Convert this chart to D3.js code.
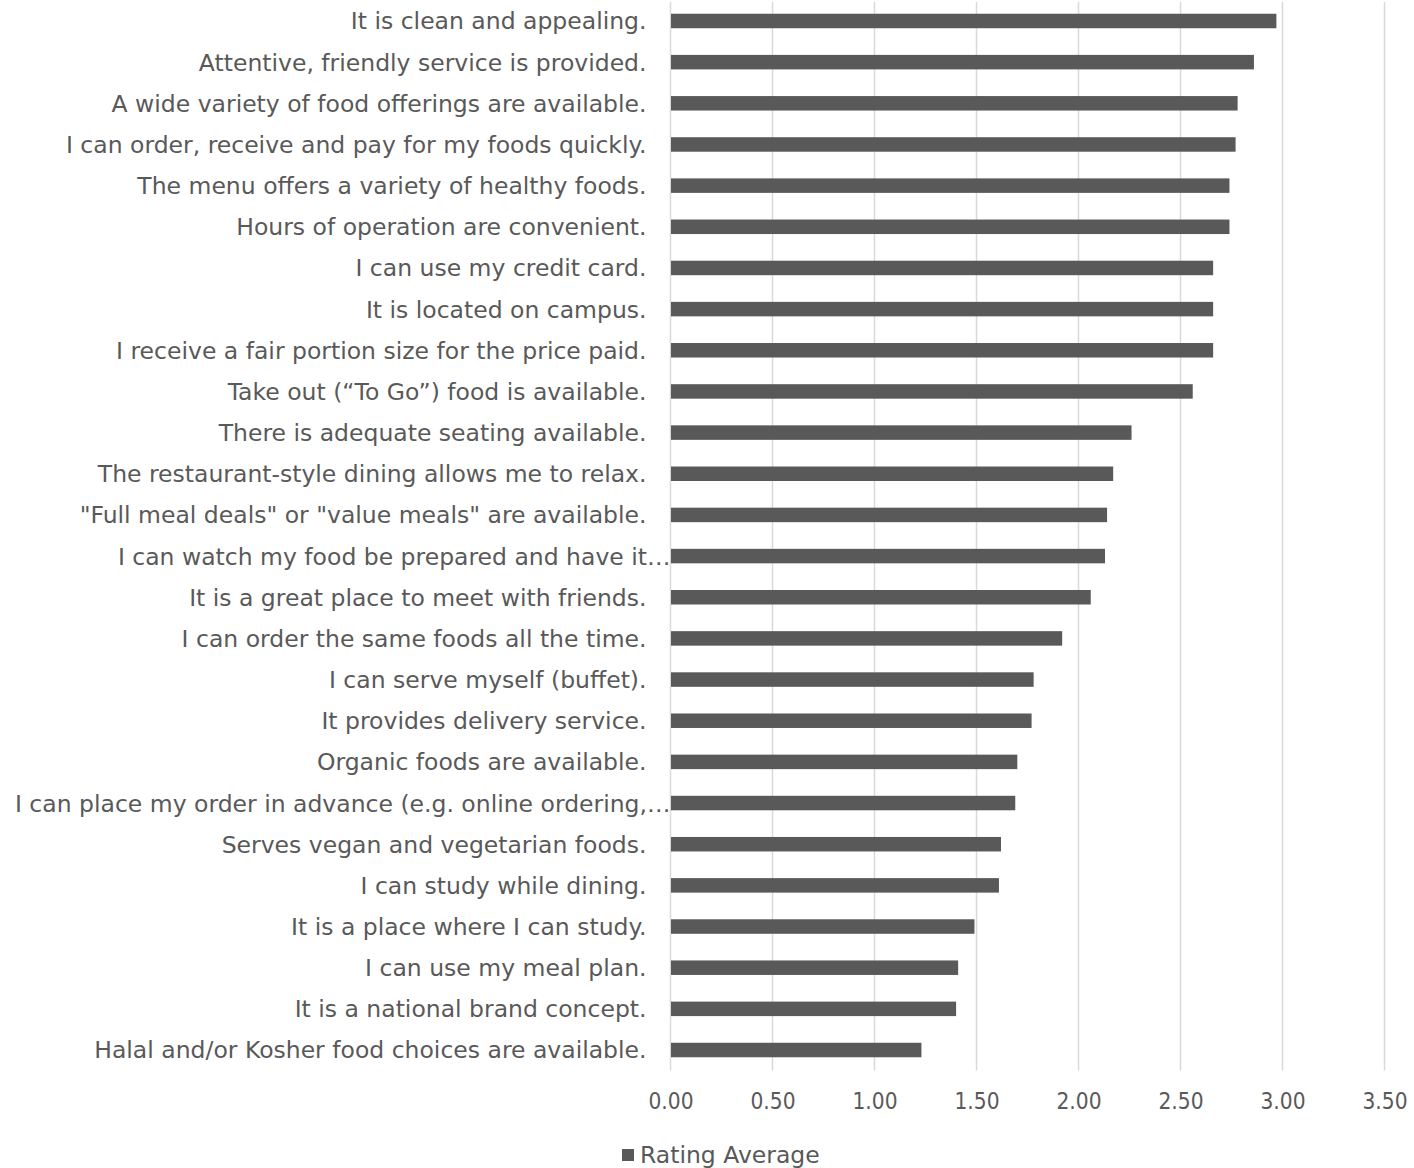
<!DOCTYPE html>
<html>
<head>
<meta charset="utf-8">
<script src="https://cdn.jsdelivr.net/npm/d3@7"></script>
<style>
  html, body { margin: 0; padding: 0; background: #fff; }
  svg { display: block; }
  text { font-family: "Century Gothic", "DejaVu Sans", sans-serif; fill: #595959; }
</style>
</head>
<body>
<svg id="chart" width="1414" height="1168"></svg>
<script>
const categories = [
  "It is clean and appealing.",
  "Attentive, friendly service is provided.",
  "A wide variety of food offerings are available.",
  "I can order, receive and pay for my foods quickly.",
  "The menu offers a variety of healthy foods.",
  "Hours of operation are convenient.",
  "I can use my credit card.",
  "It is located on campus.",
  "I receive a fair portion size for the price paid.",
  "Take out (\u201cTo Go\u201d) food is available.",
  "There is adequate seating available.",
  "The restaurant-style dining allows me to relax.",
  "\"Full meal deals\" or \"value meals\" are available.",
  "I can watch my food be prepared and have it\u2026",
  "It is a great place to meet with friends.",
  "I can order the same foods all the time.",
  "I can serve myself (buffet).",
  "It provides delivery service.",
  "Organic foods are available.",
  "I can place my order in advance (e.g. online ordering,\u2026",
  "Serves vegan and vegetarian foods.",
  "I can study while dining.",
  "It is a place where I can study.",
  "I can use my meal plan.",
  "It is a national brand concept.",
  "Halal and/or Kosher food choices are available."
];
const ratingAverage = [
  2.97, 2.86, 2.78, 2.77, 2.74, 2.74, 2.66, 2.66, 2.66, 2.56,
  2.26, 2.17, 2.14, 2.13, 2.06, 1.92, 1.78, 1.77, 1.70, 1.69,
  1.62, 1.61, 1.49, 1.41, 1.40, 1.23
];
const truncated = [false,false,false,false,false,false,false,false,false,false,
  false,false,false,true,false,false,false,false,false,true,
  false,false,false,false,false,false];
const xTicks = [0, 0.5, 1, 1.5, 2, 2.5, 3, 3.5];
const seriesName = "Rating Average";

const svg = d3.select("#chart");
const x0 = 670.5, x1 = 1384.5, yTop = 0.4, yBot = 1070.6;
const x = d3.scaleLinear().domain([0, 3.5]).range([x0, x1]);
const y = d3.scaleBand().domain(categories).range([yTop, yBot]).paddingInner(0.648).paddingOuter(0.324);

// gridlines
svg.append("g").selectAll("line").data(xTicks).join("line")
  .attr("x1", d => x(d)).attr("x2", d => x(d))
  .attr("y1", 2).attr("y2", yBot)
  .attr("stroke", "#d9d9d9").attr("stroke-width", 1.5);

// bars
svg.append("g").selectAll("rect").data(categories).join("rect")
  .attr("x", x(0) + 0.5)
  .attr("y", d => y(d))
  .attr("width", (d, i) => x(ratingAverage[i]) - x(0) - 0.5)
  .attr("height", y.bandwidth())
  .attr("fill", "#595959");

// category labels
svg.append("g").selectAll("text").data(categories).join("text")
  .attr("x", (d, i) => truncated[i] ? x0 : x0 - 24)
  .attr("y", d => y(d) + y.bandwidth() / 2)
  .attr("dy", "0.36em")
  .attr("text-anchor", "end")
  .attr("font-size", 23.5)
  .text(d => d);

// x axis tick labels
const axis = d3.axisBottom(x).tickValues(xTicks).tickFormat(d3.format(".2f")).tickSize(0).tickPadding(0);
const gx = svg.append("g").attr("transform", `translate(0, ${yBot + 22})`).call(axis);
gx.select(".domain").remove();
gx.selectAll("text").attr("font-size", 22.5).attr("fill", "#595959")
  .style("font-family", "\"Century Gothic\", \"DejaVu Sans Condensed\", \"DejaVu Sans\", sans-serif");

// legend
const lg = svg.append("g").attr("transform", "translate(622, 1155)");
lg.append("rect").attr("x", 0).attr("y", -6).attr("width", 12).attr("height", 12).attr("fill", "#595959");
lg.append("text").attr("x", 18).attr("y", 0).attr("dy", "0.36em").attr("font-size", 23.5).text(seriesName);
</script>
</body>
</html>
